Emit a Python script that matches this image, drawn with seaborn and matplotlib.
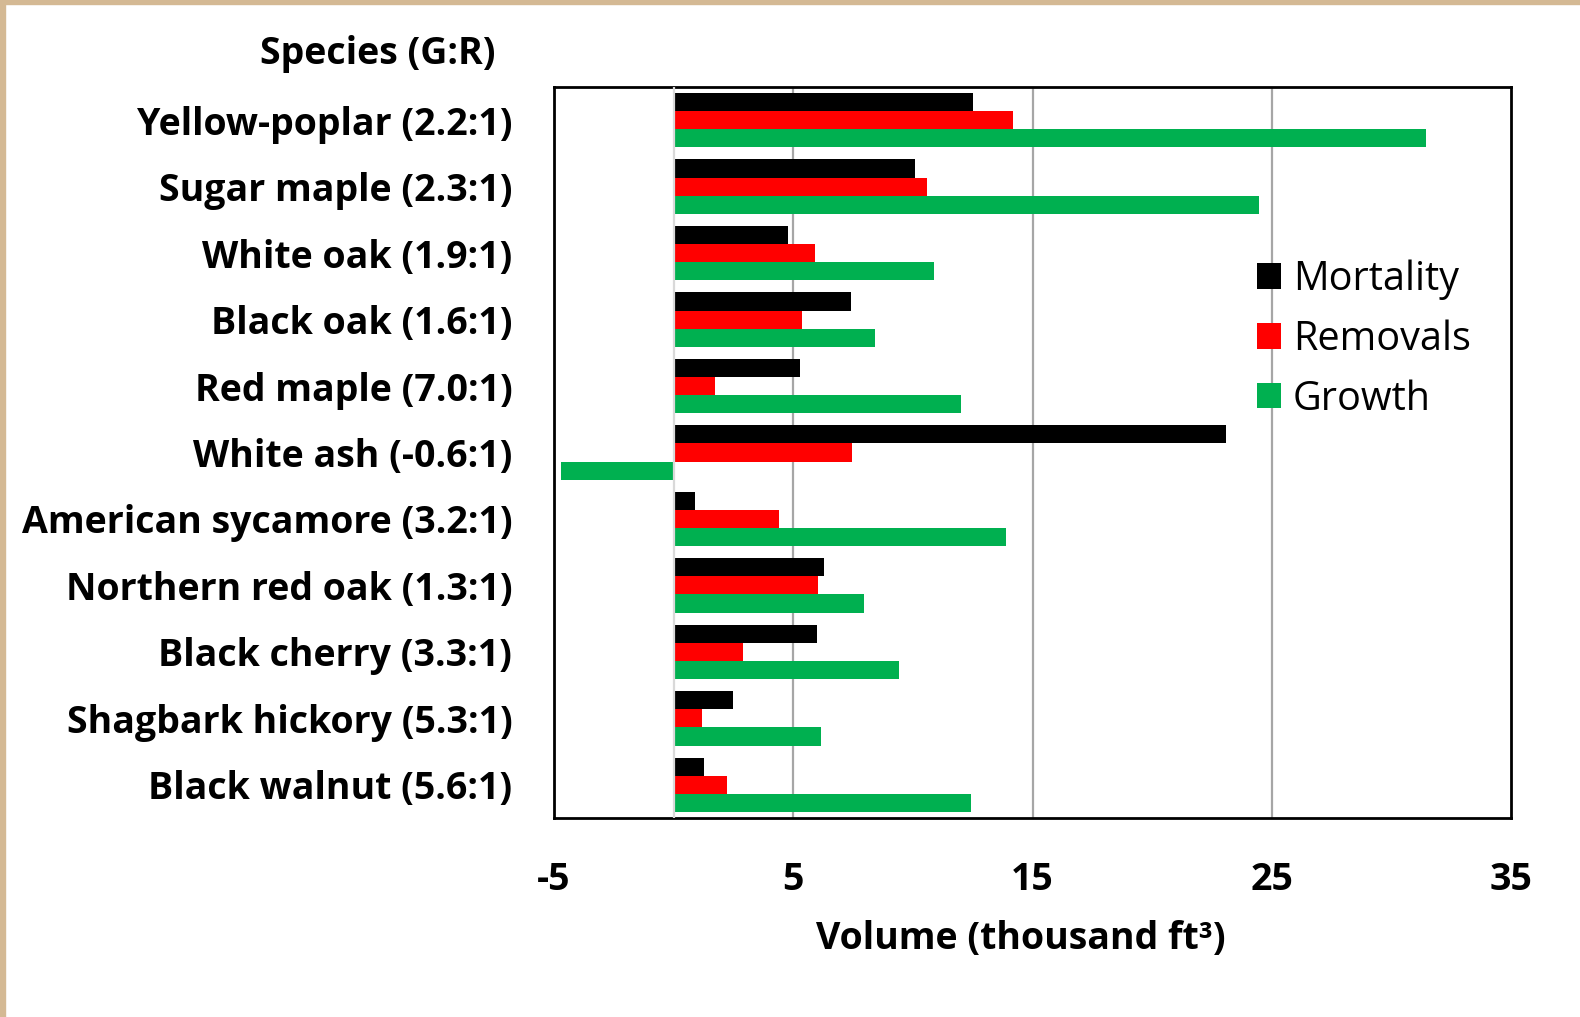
import pandas as pd
import matplotlib.pyplot as plt
from matplotlib.patches import Rectangle
import seaborn as sns

# ---- data (thousand ft3) ----
species = ["Yellow-poplar (2.2:1)", "Sugar maple (2.3:1)", "White oak (1.9:1)",
           "Black oak (1.6:1)", "Red maple (7.0:1)", "White ash (-0.6:1)",
           "American sycamore (3.2:1)", "Northern red oak (1.3:1)",
           "Black cherry (3.3:1)", "Shagbark hickory (5.3:1)", "Black walnut (5.6:1)"]
mortality = [12.5, 10.1, 4.8, 7.4, 5.3, 23.1, 0.9, 6.3, 6.0, 2.5, 1.25]
removals = [14.2, 10.6, 5.9, 5.35, 1.75, 7.45, 4.4, 6.05, 2.9, 1.2, 2.25]
growth = [31.45, 24.45, 10.9, 8.4, 12.0, -4.7, 13.9, 7.95, 9.4, 6.15, 12.45]
series = ["Mortality", "Removals", "Growth"]
colors = ["#000000", "#FF0000", "#00B050"]
xticks = [-5, 5, 15, 25, 35]

df = pd.DataFrame({
    "species": species * 3,
    "value": mortality + removals + growth,
    "series": [s for s in series for _ in species],
})

sns.set_style("white")
plt.rcParams['font.family'] = ['Open Sans', 'DejaVu Sans']
plt.rcParams['text.color'] = 'black'
plt.rcParams['axes.labelcolor'] = 'black'
plt.rcParams['xtick.color'] = 'black'
plt.rcParams['ytick.color'] = 'black'
FS = 27       # bold labels
FS_LEG = 28.5 # legend (regular)

fig = plt.figure(figsize=(15.8, 10.17), dpi=100)
ax = fig.add_axes([554 / 1580, 1 - 818 / 1017, (1511 - 554) / 1580, (818 - 87) / 1017])

sns.barplot(data=df, y="species", x="value", hue="series", orient="h",
            palette=colors, saturation=1, width=0.82, ax=ax,
            edgecolor="none", linewidth=0, zorder=3)

ax.set_xlim(-5, 35)
ax.set_xticks(xticks)
ax.set_xticklabels([str(t) for t in xticks], fontsize=FS, fontweight="bold")
ax.set_yticks(range(len(species)))
ax.set_yticklabels(species, fontsize=FS, fontweight="bold")
ax.tick_params(axis="y", length=0, pad=30)
ax.tick_params(axis="x", length=0, pad=31)
ax.set_ylabel("")
ax.set_xlabel("Volume (thousand ft³)", fontsize=FS, fontweight="bold", labelpad=16)
ax.xaxis.set_label_coords(0.488, -0.139)

# gridlines
for t in [5, 15, 25]:
    ax.axvline(t, color="#A6A6A6", lw=1.6, zorder=1)
ax.axvline(0, color="#D9D9D9", lw=1.6, zorder=4)

for sp in ax.spines.values():
    sp.set_color("black")
    sp.set_linewidth(2)
    sp.set_visible(True)

leg = ax.legend(loc="upper left", bbox_to_anchor=(0.7346, 0.764), frameon=False,
                fontsize=FS_LEG, handlelength=0.6, handleheight=0.6,
                handletextpad=0.3, labelspacing=0.49, borderaxespad=0, borderpad=0)

fig.text(496 / 1580, 1 - 54 / 1017, "Species (G:R)", ha="right", va="center",
         fontsize=FS, fontweight="bold")

# tan border on left and top
fig.add_artist(Rectangle((0, 0), 5 / 1580, 1, transform=fig.transFigure,
                         color="#D4B994", zorder=10))
fig.add_artist(Rectangle((0, 1 - 4 / 1017), 1, 4 / 1017, transform=fig.transFigure,
                         color="#D4B994", zorder=10))

fig.savefig("out.png", dpi=100)
